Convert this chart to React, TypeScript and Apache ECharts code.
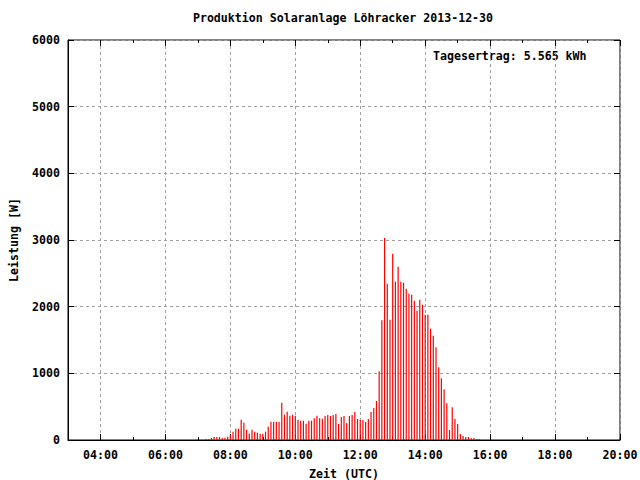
import React, { useEffect, useRef } from "react";
import * as echarts from "echarts";

const titleText = "Produktion Solaranlage Löhracker 2013-12-30";
const yieldText = "Tagesertrag: 5.565 kWh";
const xName = "Zeit (UTC)";
const yName = "Leistung [W]";

const times = [
  "07:15", "07:20", "07:25", "07:30", "07:35", "07:40", "07:45", "07:50", "07:55",
  "08:00", "08:05", "08:10", "08:15", "08:20", "08:25", "08:30", "08:35", "08:40", "08:45", "08:50", "08:55",
  "09:00", "09:05", "09:10", "09:15", "09:20", "09:25", "09:30", "09:35", "09:40", "09:45", "09:50", "09:55",
  "10:00", "10:05", "10:10", "10:15", "10:20", "10:25", "10:30", "10:35", "10:40", "10:45", "10:50", "10:55",
  "11:00", "11:05", "11:10", "11:15", "11:20", "11:25", "11:30", "11:35", "11:40", "11:45", "11:50", "11:55",
  "12:00", "12:05", "12:10", "12:15", "12:20", "12:25", "12:30", "12:35", "12:40", "12:45", "12:50", "12:55",
  "13:00", "13:05", "13:10", "13:15", "13:20", "13:25", "13:30", "13:35", "13:40", "13:45", "13:50", "13:55",
  "14:00", "14:05", "14:10", "14:15", "14:20", "14:25", "14:30", "14:35", "14:40", "14:45", "14:50", "14:55",
  "15:00", "15:05", "15:10", "15:15", "15:20", "15:25", "15:30", "15:35", "15:40",
];

const power = [
  15, 15, 30, 45, 45, 45, 30, 35, 50,
  80, 125, 170, 170, 305, 260, 155, 95, 155, 125, 110, 95,
  95, 125, 200, 275, 275, 275, 275, 560, 380, 425, 365, 380,
  365, 305, 290, 290, 245, 290, 290, 325, 365, 325, 320, 360,
  375, 360, 375, 390, 240, 345, 360, 255, 360, 375, 420, 315,
  300, 300, 270, 315, 420, 480, 585, 1030, 1795, 3030, 2345, 1805,
  2795, 2375, 2600, 2375, 2360, 2270, 2195, 2180, 2090, 1940, 2105, 2030,
  1880, 1880, 1670, 1565, 1390, 1090, 925, 760, 550, 150, 490, 315,
  240, 90, 60, 45, 45, 30, 30, 15, 15,
];

const xMajorHours = [4, 6, 8, 10, 12, 14, 16, 18, 20];
const xStartHour = 3;
const xEndHour = 20;
const yMax = 6000;
const yStep = 1000;

const toMin = (t: string) => {
  const [h, m] = t.split(":").map(Number);
  return h * 60 + m;
};
const fmtHour = (v: number) => {
  const h = Math.round(v / 60);
  return (h < 10 ? "0" : "") + h + ":00";
};

const FONT = "'DejaVu Sans Mono', 'Liberation Mono', monospace";
const FS = 11.6;

export default function App() {
  const ref = useRef<HTMLDivElement>(null);

  useEffect(() => {
    if (!ref.current) return;
    const chart = echarts.init(ref.current, undefined, { renderer: "svg" });
    const majorMin = xMajorHours.map((h) => h * 60);
    const txt = { fontFamily: FONT, fontSize: FS, fontWeight: "bold" as const, color: "#000" };
    const black = { color: "#000", width: 1 };
    const xBase = {
      type: "value" as const,
      min: xStartHour * 60,
      max: xEndHour * 60,
      gridIndex: 0,
    };
    chart.setOption({
      animation: false,
      backgroundColor: "#fff",
      grid: {
        left: 68,
        right: 20,
        top: 40,
        bottom: 40,
        containLabel: false,
        outerBoundsMode: "none",
        show: true,
        borderColor: "#000",
        borderWidth: 1,
        backgroundColor: "transparent",
      },
      graphic: [
        {
          type: "text",
          x: 343,
          y: 18,
          style: { text: titleText, font: `bold ${FS}px ${FONT}`, fill: "#000", textAlign: "center", textVerticalAlign: "middle" },
        },
        {
          type: "text",
          x: 433,
          y: 56,
          style: { text: yieldText, font: `bold ${FS}px ${FONT}`, fill: "#000", textAlign: "left", textVerticalAlign: "middle" },
        },
      ],
      xAxis: [
        {
          ...xBase,
          position: "bottom",
          axisLine: { show: true, lineStyle: black },
          axisTick: { show: true, inside: true, length: 6, customValues: majorMin, lineStyle: black },
          axisLabel: { show: true, customValues: majorMin, formatter: fmtHour, margin: 9, ...txt },
          splitLine: { show: true, lineStyle: { color: "#a0a0a0", type: [3, 3], width: 1 } },
          name: xName,
          nameLocation: "middle",
          nameGap: 28,
          nameTextStyle: { ...txt },
        },
        {
          ...xBase,
          position: "bottom",
          interval: 60,
          axisLine: { show: false },
          axisTick: { show: true, inside: true, length: 3, lineStyle: black },
          axisLabel: { show: false },
          splitLine: { show: false },
        },
        {
          ...xBase,
          position: "top",
          axisLine: { show: false },
          axisTick: { show: true, inside: true, length: 6, customValues: majorMin, lineStyle: black },
          axisLabel: { show: false, customValues: majorMin },
          splitLine: { show: false },
        },
        {
          ...xBase,
          position: "top",
          interval: 60,
          axisLine: { show: false },
          axisTick: { show: true, inside: true, length: 3, lineStyle: black },
          axisLabel: { show: false },
          splitLine: { show: false },
        },
      ],
      yAxis: [
        {
          type: "value",
          min: 0,
          max: yMax,
          interval: yStep,
          position: "left",
          axisLine: { show: true, lineStyle: black },
          axisTick: { show: true, inside: true, length: 6, lineStyle: black },
          axisLabel: { show: true, margin: 8, formatter: (v: number) => String(v), ...txt },
          splitLine: { show: true, lineStyle: { color: "#a0a0a0", type: [3, 3], width: 1 } },
          name: yName,
          nameLocation: "middle",
          nameGap: 48,
          nameRotate: 90,
          nameTextStyle: { ...txt },
        },
        {
          type: "value",
          min: 0,
          max: yMax,
          interval: yStep,
          position: "right",
          axisLine: { show: false },
          axisTick: { show: true, inside: true, length: 6, lineStyle: black },
          axisLabel: { show: false },
          splitLine: { show: false },
        },
      ],
      series: [
        {
          type: "bar",
          xAxisIndex: 0,
          yAxisIndex: 0,
          barWidth: 1.2,
          silent: true,
          itemStyle: { color: "#ff0000" },
          data: times.map((t, i) => [toMin(t), power[i]]),
        },
      ],
    });
    return () => chart.dispose();
  }, []);

  return (
    <div
      ref={ref}
      style={{ position: "fixed", left: 0, top: 0, width: 640, height: 480 }}
    />
  );
}
